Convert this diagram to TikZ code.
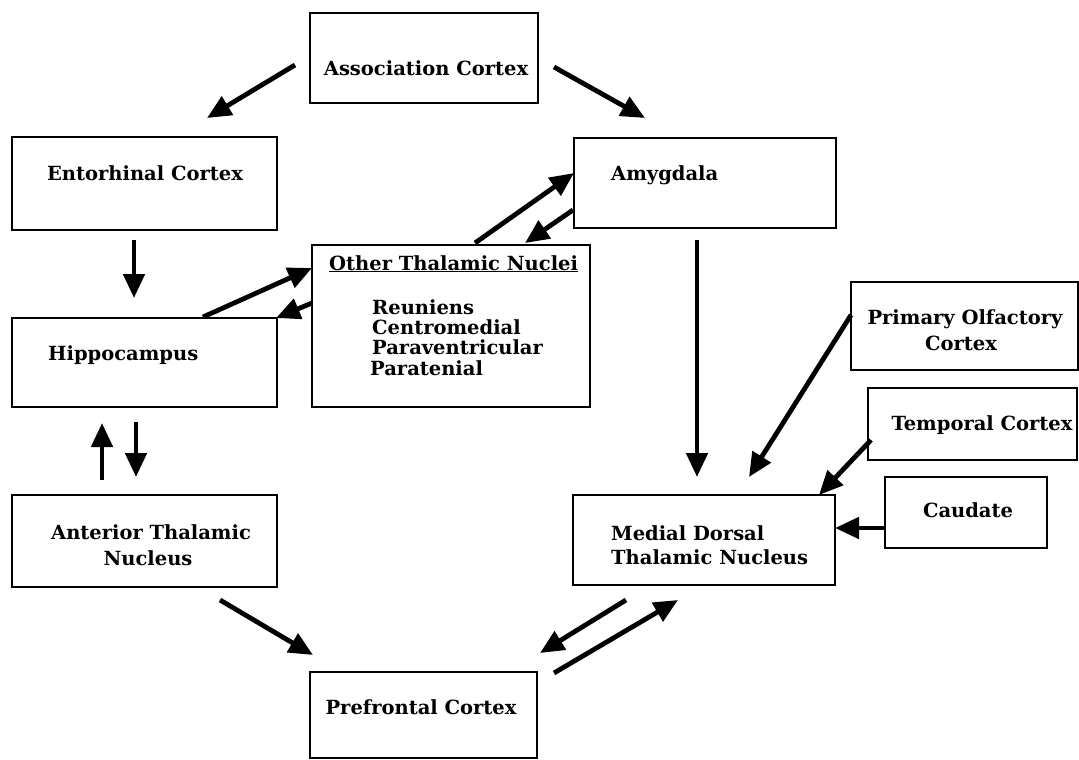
\documentclass[tikz,border=0pt]{standalone}
\usepackage{fontspec}
\setmainfont{DejaVu Serif}
\usetikzlibrary{arrows.meta}
\begin{document}
\begin{tikzpicture}[x=1pt,y=-1pt,
  box/.style={draw=black,line width=2.8pt,rectangle,inner sep=0pt},
  lbl/.style={font=\fontsize{19.5}{24}\selectfont\bfseries,inner sep=0pt},
  conn/.style={line width=4.8pt,-{Triangle[length=24pt,width=21pt]}}]
\useasboundingbox[fill=white] (0,0) rectangle (1079,760);
% boxes
\node[box,minimum width=228pt,minimum height=90pt] (assoc) at (424,58) {};
\node[box,minimum width=265pt,minimum height=93pt] (ent) at (144.5,183.5) {};
\node[box,minimum width=262pt,minimum height=90pt] (amyg) at (705,183) {};
\node[box,minimum width=278pt,minimum height=162pt] (other) at (451,326) {};
\node[box,minimum width=265pt,minimum height=89pt] (hip) at (144.5,362.5) {};
\node[box,minimum width=227pt,minimum height=88pt] (olf) at (964.5,326) {};
\node[box,minimum width=209pt,minimum height=72pt] (temp) at (972.5,424) {};
\node[box,minimum width=162pt,minimum height=71pt] (caud) at (966,512.5) {};
\node[box,minimum width=265pt,minimum height=92pt] (ant) at (144.5,541) {};
\node[box,minimum width=262pt,minimum height=90pt] (md) at (704,540) {};
\node[box,minimum width=227pt,minimum height=86pt] (pref) at (423.5,715) {};
% labels
\node[lbl,anchor=base] (tassoc) at (426,76) {Association Cortex};
\node[lbl,anchor=base] (tent) at (145,180) {Entorhinal Cortex};
\node[lbl,anchor=base west] (tamyg) at (611,180) {Amygdala};
\node[lbl,anchor=base west] (tother) at (329,270) {\underline{Other Thalamic Nuclei}};
\node[lbl,anchor=base west] (tr1) at (372,314) {Reuniens};
\node[lbl,anchor=base west] (tr2) at (372,334) {Centromedial};
\node[lbl,anchor=base west] (tr3) at (372,354) {Paraventricular};
\node[lbl,anchor=base west] (tr4) at (370,375) {Paratenial};
\node[lbl,anchor=base west] (thip) at (48,360) {Hippocampus};
\node[lbl,anchor=base] (tant1) at (151,539) {Anterior Thalamic};
\node[lbl,anchor=base] (tant2) at (148,565) {Nucleus};
\node[lbl,anchor=base west] (tmd1) at (611,540) {Medial Dorsal};
\node[lbl,anchor=base west] (tmd2) at (611,564) {Thalamic Nucleus};
\node[lbl,anchor=base] (tolf1) at (965,324) {Primary Olfactory};
\node[lbl,anchor=base] (tolf2) at (961,350) {Cortex};
\node[lbl,anchor=base] (ttemp) at (982,430) {Temporal Cortex};
\node[lbl,anchor=base] (tcaud) at (968,517) {Caudate};
\node[lbl,anchor=base] (tpref) at (421,714) {Prefrontal Cortex};
% connector end points
\coordinate (s1) at (295,65);  \coordinate (e1) at (207,118);
\coordinate (s2) at (554,67);  \coordinate (e2) at (645,118);
\coordinate (s3) at (134,240); \coordinate (e3) at (134,298);
\coordinate (s4) at (203,317); \coordinate (e4) at (312,268);
\coordinate (s5) at (312,303); \coordinate (e5) at (276,318);
\coordinate (s6) at (475,243); \coordinate (e6) at (574,173);
\coordinate (s7) at (573,210); \coordinate (e7) at (525,243);
\coordinate (s8) at (697,240); \coordinate (e8) at (697,477);
\coordinate (s9) at (851,315); \coordinate (e9) at (749,477);
\coordinate (s10) at (871,440); \coordinate (e10) at (819,495);
\coordinate (s11) at (885,528); \coordinate (e11) at (835,528);
\coordinate (s12) at (136,422); \coordinate (e12) at (136,477);
\coordinate (s13) at (102,480); \coordinate (e13) at (102,423);
\coordinate (s14) at (220,600); \coordinate (e14) at (313,655);
\coordinate (s15) at (626,600); \coordinate (e15) at (540,653);
\coordinate (s16) at (554,673); \coordinate (e16) at (678,600);
% connectors
\foreach \i in {1,...,16} {\draw[conn] (s\i) -- (e\i);}
\end{tikzpicture}
\end{document}
